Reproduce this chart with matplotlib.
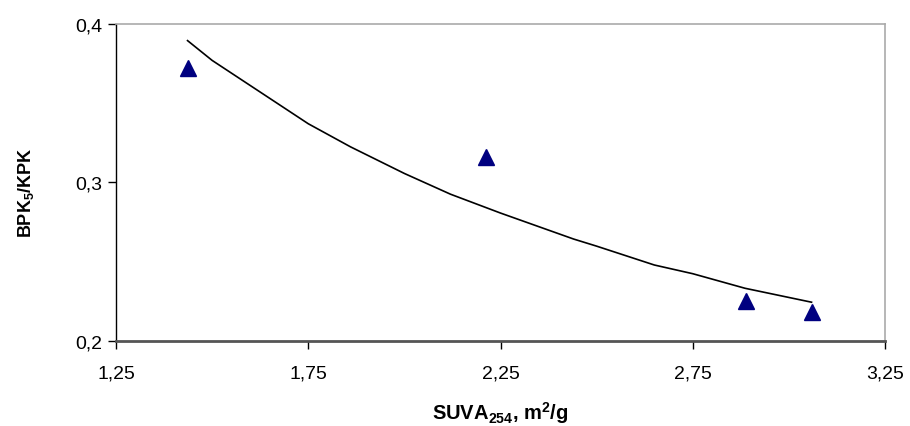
import matplotlib
matplotlib.use("Agg")
import matplotlib.pyplot as plt
from matplotlib.ticker import FuncFormatter

# measured points
suva = [1.436, 2.211, 2.888, 3.059]
ratio = [0.372, 0.316, 0.225, 0.218]

# trend curve
curve_x = [1.436, 1.5, 1.6, 1.75, 1.86, 2.0, 2.12, 2.25, 2.44, 2.5, 2.65, 2.75, 2.886, 3.0, 3.059]
curve_y = [0.3895, 0.377, 0.361, 0.337, 0.3224, 0.3056, 0.2925, 0.2806, 0.2642, 0.2597, 0.2478, 0.2423, 0.2331, 0.2273, 0.2243]

xticks = [1.25, 1.75, 2.25, 2.75, 3.25]
yticks = [0.2, 0.3, 0.4]

plt.rcParams['font.family'] = ['Liberation Sans', 'DejaVu Sans']
plt.rcParams['mathtext.fontset'] = 'custom'
plt.rcParams['mathtext.rm'] = 'Liberation Sans'
plt.rcParams['mathtext.bf'] = 'Liberation Sans:bold'
plt.rcParams['mathtext.it'] = 'Liberation Sans:italic'

fig = plt.figure(figsize=(9.1, 4.27), dpi=100)
ax = fig.add_axes([0.1275, 0.1998, 0.845, 0.7417])

ax.plot(curve_x, curve_y, color='black', lw=1.2, zorder=2)
ax.plot(suva, ratio, linestyle='none', marker='^', markersize=12,
        color='#000080', zorder=3)

ax.set_xlim(1.25, 3.25)
ax.set_ylim(0.2, 0.4)
ax.set_xticks(xticks)
ax.set_yticks(yticks)
fmt = FuncFormatter(lambda v, p: (('%g' % v).replace('.', ',')))
ax.xaxis.set_major_formatter(fmt)
ax.yaxis.set_major_formatter(fmt)

ax.tick_params(axis='both', direction='out', length=6, width=1, labelsize=14, colors='black')
ax.tick_params(axis='x', pad=11)
ax.tick_params(axis='y', pad=4)

ax.spines['left'].set_color('black')
ax.spines['left'].set_linewidth(1.0)
ax.spines['bottom'].set_color('#555555')
ax.spines['bottom'].set_linewidth(2.0)
ax.spines['top'].set_color('#aaaaaa')
ax.spines['top'].set_linewidth(1.2)
ax.spines['right'].set_color('#aaaaaa')
ax.spines['right'].set_linewidth(1.2)

ax.set_xlabel(r'SUVA$_{\mathbf{254}}$, m$^{\mathbf{2}}$/g', fontsize=14.5, fontweight='bold')
ax.set_ylabel(r'BPK$_{\mathbf{5}}$/KPK', fontsize=13, fontweight='bold')
ax.xaxis.set_label_coords(0.5 * (0.1275 + 0.9725), 1 - 420 / 427, transform=fig.transFigure)
ax.xaxis.label.set_va('baseline')
ax.yaxis.set_label_coords(36 / 910, 1 - 193 / 427, transform=fig.transFigure)

fig.savefig('out.png', dpi=100)
